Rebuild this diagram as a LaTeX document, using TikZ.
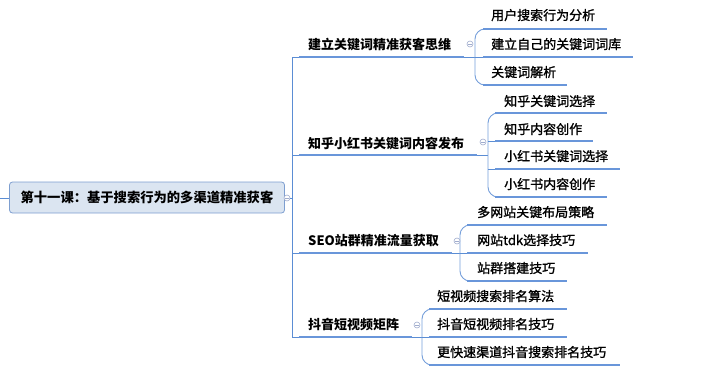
\documentclass[tikz,border=0pt]{standalone}
\usepackage{fontspec}
\setmainfont{Noto Sans CJK SC}
\newfontfamily\semib[FakeBold=1.3]{Noto Sans CJK SC}
\definecolor{lc}{RGB}{91,141,212}
\definecolor{ul}{RGB}{105,150,218}
\definecolor{rootfill}{RGB}{219,229,241}
\definecolor{rootdraw}{RGB}{125,158,208}
\definecolor{foldc}{RGB}{160,172,205}
\tikzset{
  conn/.style={draw=lc, line width=0.9pt},
  bracestyle/.style={draw=lc!85, line width=0.9pt, rounded corners=10pt},
  uline/.style={draw=ul, line width=2.2pt},
  lone/.style={font=\fontsize{13}{15}\selectfont\bfseries, anchor=base west, inner sep=0pt},
  ltwo/.style={font=\fontsize{13}{15}\selectfont\semib, anchor=base west, inner sep=0pt},
  rootbox/.style={draw=rootdraw, fill=rootfill, rounded corners=3pt, line width=0.8pt,
    minimum width=275pt, minimum height=31pt, inner sep=0pt, font=\fontsize{13.3}{15}\selectfont\bfseries},
  fold/.style={circle, draw=foldc, line width=0.6pt, minimum size=6pt, inner sep=0pt, fill=white,
    path picture={\draw[foldc, line width=0.5pt] ([xshift=1.3pt]path picture bounding box.west) -- ([xshift=-1.3pt]path picture bounding box.east);}}
}
\begin{document}
\begin{tikzpicture}[x=1pt,y=-1pt]
\useasboundingbox (0,0) rectangle (718,380);
% root
\node[rootbox] (root) at (147,197.5) {第十一课：基于搜索行为的多渠道精准获客};
\coordinate (lend) at (0,198);
\draw[conn] (lend) -- (root.west |- lend);
\node[fold] (f0) at (287,198) {};
\coordinate (tr) at (292,198);
\draw[conn] (f0) -- (tr);

% level 1 coordinates
\coordinate (b1l) at (299,57);  \coordinate (b1r) at (464,57);
\coordinate (b2l) at (299,155); \coordinate (b2r) at (477,155);
\coordinate (b3l) at (299,253); \coordinate (b3r) at (452,253);
\coordinate (b4l) at (299,337); \coordinate (b4r) at (412,337);
\draw[conn] (tr |- b1l) -- (tr |- b4l);
\foreach \i in {1,2,3,4} { \draw[conn] (tr |- b\i l) -- (b\i l); \draw[uline] (b\i l) -- (b\i r); }

\node[lone] (b1) at (308,49) {建立关键词精准获客思维};
\node[lone] (b2) at (308,148) {知乎小红书关键词内容发布};
\node[lone] (b3) at (308,245) {SEO站群精准流量获取};
\node[lone] (b4) at (308,329) {抖音短视频矩阵};

% bracket points
\coordinate (k1) at (475,57);
\coordinate (k2) at (488,155);
\coordinate (k3) at (460,253);
\coordinate (k4) at (422,337);
\foreach \i in {1,2,3,4} { \draw[conn] (b\i r) -- (k\i); }

% branch 1 children
\coordinate (c11l) at (483,29);  \coordinate (c11r) at (607,29);
\coordinate (c12l) at (483,57);  \coordinate (c12r) at (633,57);
\coordinate (c13l) at (483,85);  \coordinate (c13r) at (567,85);
\draw[bracestyle] (c11l) -| (k1) |- (c13l);
\draw[conn] (k1) -- (c12l);
\node[ltwo] (c11) at (491,20) {用户搜索行为分析};
\node[ltwo] (c12) at (491,49) {建立自己的关键词词库};
\node[ltwo] (c13) at (491,77) {关键词解析};

% branch 2 children
\coordinate (c21l) at (495,113); \coordinate (c21r) at (607,113);
\coordinate (c22l) at (495,141); \coordinate (c22r) at (593,141);
\coordinate (c23l) at (495,169); \coordinate (c23r) at (620,169);
\coordinate (c24l) at (495,197); \coordinate (c24r) at (607,197);
\draw[bracestyle] (c21l) -| (k2) |- (c24l);
\draw[conn] (k2 |- c22l) -- (c22l);
\draw[conn] (k2 |- c23l) -- (c23l);
\node[ltwo] (c21) at (504,106) {知乎关键词选择};
\node[ltwo] (c22) at (504,134) {知乎内容创作};
\node[ltwo] (c23) at (504,161) {小红书关键词选择};
\node[ltwo] (c24) at (504,189) {小红书内容创作};

% branch 3 children
\coordinate (c31l) at (467,225); \coordinate (c31r) at (607,225);
\coordinate (c32l) at (467,253); \coordinate (c32r) at (588,253);
\coordinate (c33l) at (467,281); \coordinate (c33r) at (567,281);
\draw[bracestyle] (c31l) -| (k3) |- (c33l);
\draw[conn] (k3) -- (c32l);
\node[ltwo] (c31) at (477,217) {多网站关键布局策略};
\node[ltwo] (c32) at (477,245) {网站tdk选择技巧};
\node[ltwo] (c33) at (477,273) {站群搭建技巧};

% branch 4 children
\coordinate (c41l) at (429,309); \coordinate (c41r) at (567,309);
\coordinate (c42l) at (429,337); \coordinate (c42r) at (567,337);
\coordinate (c43l) at (429,365); \coordinate (c43r) at (620,365);
\draw[bracestyle] (c41l) -| (k4) |- (c43l);
\draw[conn] (k4) -- (c42l);
\node[ltwo] (c41) at (437,301) {短视频搜索排名算法};
\node[ltwo] (c42) at (437,329) {抖音短视频排名技巧};
\node[ltwo] (c43) at (437,357) {更快速渠道抖音搜索排名技巧};

\foreach \a in {11,12,13,21,22,23,24,31,32,33,41,42,43} { \draw[uline] (c\a l) -- (c\a r); }

% fold markers
\node[fold] (f1) at (470,44) {};
\node[fold] (f2) at (483,142) {};
\node[fold] (f3) at (457,241) {};
\node[fold] (f4) at (417,325) {};
\end{tikzpicture}
\end{document}
